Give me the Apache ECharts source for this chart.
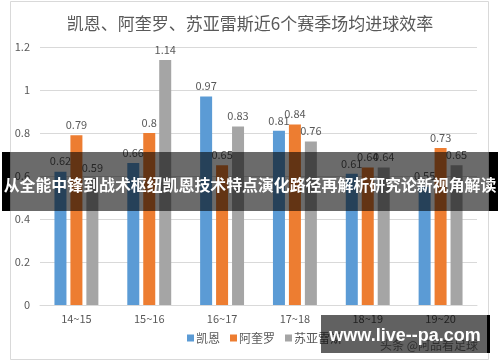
<!DOCTYPE html>
<html>
<head>
<meta charset="utf-8">
<script src="https://cdn.jsdelivr.net/npm/echarts@6/dist/echarts.min.js"></script>
<style>
html,body{margin:0;padding:0;background:#fff;}
#c{width:500px;height:362px;}
</style>
</head>
<body>
<div id="c"></div>
<script>
const titleText = '凯恩、阿奎罗、苏亚雷斯近6个赛季场均进球效率';
const categories = ['14~15', '15~16', '16~17', '17~18', '18~19', '19~20'];
const seriesNames = ['凯恩', '阿奎罗', '苏亚雷斯'];
const kane = [0.62, 0.66, 0.97, 0.81, 0.61, 0.55];
const aguero = [0.79, 0.8, 0.65, 0.84, 0.64, 0.73];
const suarez = [0.59, 1.14, 0.83, 0.76, 0.64, 0.65];
const colors = ['#5B9BD5', '#ED7D31', '#A5A5A5'];
const bannerText = '从全能中锋到战术枢纽凯恩技术特点演化路径再解析研究论新视角解读';
const watermarkText = 'www.live--pa.com';
const sourceText = '头条 @阿品看足球';

const font = '"Microsoft YaHei","Noto Sans CJK SC","Noto Sans",sans-serif';
const chart = echarts.init(document.getElementById('c'));

function mkSeries(name, data, color) {
  return {
    name: name,
    type: 'bar',
    data: data,
    barWidth: 12,
    barGap: '33%',
    itemStyle: { color: color },
    label: {
      show: true,
      position: 'top',
      distance: 5,
      color: '#595959',
      fontSize: 11,
      fontFamily: font
    }
  };
}

chart.setOption({
  animation: false,
  backgroundColor: '#fff',
  title: {
    text: titleText,
    left: 'center',
    top: 10,
    textStyle: { color: '#595959', fontSize: 17, fontWeight: 'normal', fontFamily: font }
  },
  legend: {
    data: seriesNames,
    bottom: 13,
    left: 182,
    icon: 'rect',
    itemWidth: 7,
    itemHeight: 7,
    itemGap: 10,
    textStyle: { color: '#595959', fontSize: 12, fontFamily: font, padding: [0, 0, 0, -3] }
  },
  grid: { left: 40, right: 23, top: 47, bottom: 57 },
  xAxis: {
    type: 'category',
    data: categories,
    axisLine: { lineStyle: { color: '#d9d9d9' } },
    axisTick: { show: false },
    axisLabel: { color: '#595959', fontSize: 11, margin: 8, fontFamily: font }
  },
  yAxis: {
    type: 'value',
    min: 0,
    max: 1.2,
    interval: 0.2,
    axisLine: { show: false },
    axisTick: { show: false },
    splitLine: { lineStyle: { color: '#d9d9d9' } },
    axisLabel: { color: '#595959', fontSize: 11, margin: 10, fontFamily: font,
      formatter: function (v) { return String(Math.round(v * 10) / 10); } }
  },
  series: [
    mkSeries(seriesNames[0], kane, colors[0]),
    mkSeries(seriesNames[1], aguero, colors[1]),
    mkSeries(seriesNames[2], suarez, colors[2])
  ],
  graphic: [
    { type: 'rect', z: 1, silent: true, shape: { x: 10.5, y: 1.5, width: 478, height: 358 },
      style: { fill: 'none', stroke: '#d9d9d9', lineWidth: 1 } },
    { type: 'text', z: 90, left: 380, top: 339, silent: true,
      style: { text: sourceText, fill: '#7a7a7a', fontSize: 12, fontFamily: font } },
    { type: 'rect', z: 100, silent: true, shape: { x: 2, y: 152, width: 496, height: 59 },
      style: { fill: 'rgba(0,0,0,0.58)' } },
    { type: 'rect', z: 100, silent: true, shape: { x: 2, y: 152, width: 8, height: 59 },
      style: { fill: '#000' } },
    { type: 'rect', z: 100, silent: true, shape: { x: 489, y: 152, width: 9, height: 59 },
      style: { fill: '#000' } },
    { type: 'text', z: 101, silent: true, x: 250, y: 185,
      style: { text: bannerText, fill: '#fff', fontSize: 15.9, fontWeight: 'bold', fontFamily: font,
        align: 'center', verticalAlign: 'middle' } },
    { type: 'rect', z: 100, silent: true, shape: { x: 321, y: 315, width: 169, height: 38 },
      style: { fill: 'rgba(0,0,0,0.62)' } },
    { type: 'rect', z: 100, silent: true, shape: { x: 487, y: 315, width: 3, height: 38 },
      style: { fill: '#000' } },
    { type: 'text', z: 101, silent: true, x: 405, y: 336,
      style: { text: watermarkText, fill: '#fff', fontSize: 18, fontWeight: 'bold',
        fontFamily: '"Liberation Sans",Arial,sans-serif', align: 'center', verticalAlign: 'middle' } }
  ]
});
</script>
</body>
</html>
